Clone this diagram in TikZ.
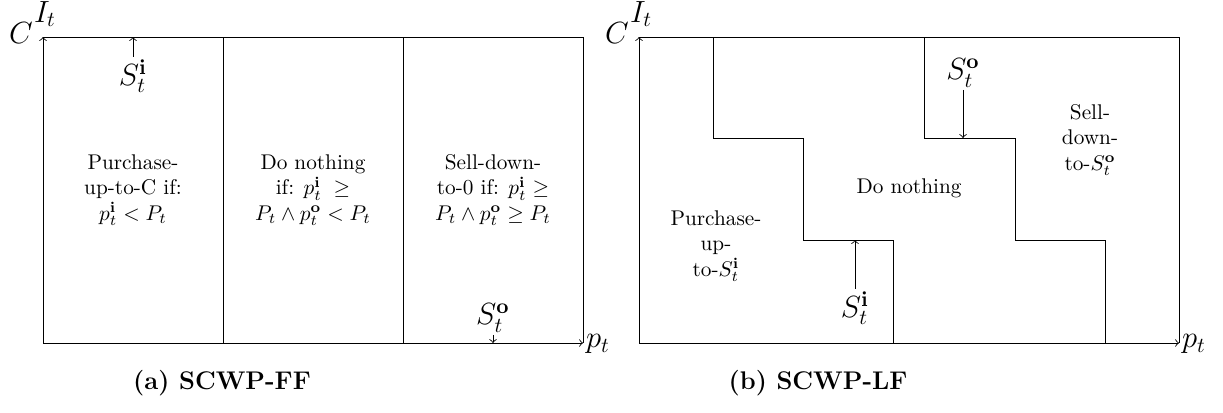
\documentclass[tikz,border=0pt]{standalone}
\usepackage{amsmath,amssymb}
\begin{document}
\begin{tikzpicture}[x=0.47pt,y=-0.47pt,
  lbl/.style={font=\fontsize{14}{16}\selectfont,inner sep=1pt},
  txt/.style={align=center,inner sep=0pt},
  captext/.style={font=\large\bfseries,inner sep=0pt}]
\useasboundingbox (0,0) rectangle (1223,412);
% ---------- left panel ----------
\coordinate (aO) at (43,343);
\coordinate (aY) at (43,37);
\coordinate (aX) at (583,343);
\coordinate (aTR) at (583,37);
\coordinate (aD1t) at (223,37); \coordinate (aD1b) at (223,343);
\coordinate (aD2t) at (403,37); \coordinate (aD2b) at (403,343);
\draw[->] (aO) -- (aY);
\draw[->] (aO) -- (aX);
\draw (aY) -- (aTR) -- (aX);
\draw (aD1t) -- (aD1b);
\draw (aD2t) -- (aD2b);
\node[lbl] (aC) at (21,33) {$C$};
\node[lbl] (aI) at (45,14) {$I_t$};
\node[lbl] (ap) at (598,344) {$p_t$};
\node[lbl] (aSi) at (133,76) {$S_t^{\mathbf{i}}$};
\coordinate (aSiT) at (133,37);
\draw[->] (aSi.north) -- (aSiT);
\node[lbl] (aSo) at (493,318) {$S_t^{\mathbf{o}}$};
\coordinate (aSoT) at (493,343);
\draw[->] (aSo.south) -- (aSoT);
\node[txt] (aT1) at (133,190) {Purchase-\\up-to-C if:\\$p_t^{\mathbf{i}} < P_t$};
\node[txt] (aT2) at (313,190) {Do nothing\\if: $p_t^{\mathbf{i}} \;\geq$\\$P_t \wedge p_t^{\mathbf{o}} < P_t$};
\node[txt] (aT3) at (493,190) {Sell-down-\\to-0 if: $p_t^{\mathbf{i}} \geq$\\$P_t \wedge p_t^{\mathbf{o}} \geq P_t$};
\node[captext] (aCap) at (222,383) {(a) SCWP-FF};
% ---------- right panel ----------
\coordinate (bO) at (639,343);
\coordinate (bY) at (639,37);
\coordinate (bX) at (1179,343);
\coordinate (bTR) at (1179,37);
\draw[->] (bO) -- (bY);
\draw[->] (bO) -- (bX);
\draw (bY) -- (bTR) -- (bX);
\draw (713,37) -- (713,138) -- (803,138) -- (803,240) -- (893,240) -- (893,343);
\draw (924,37) -- (924,138) -- (1015,138) -- (1015,240) -- (1105,240) -- (1105,343);
\node[lbl] (bC) at (617,33) {$C$};
\node[lbl] (bI) at (641,14) {$I_t$};
\node[lbl] (bp) at (1194,344) {$p_t$};
\node[lbl] (bSi) at (855,308) {$S_t^{\mathbf{i}}$};
\coordinate (bSiT) at (855,240);
\draw[->] (bSi.north) -- (bSiT);
\node[lbl] (bSo) at (963,73) {$S_t^{\mathbf{o}}$};
\coordinate (bSoT) at (963,138);
\draw[->] (bSo.south) -- (bSoT);
\node[txt] (bT1) at (716,246) {Purchase-\\up-\\to-$S_t^{\mathbf{i}}$};
\node[txt] (bT2) at (909,188) {Do nothing};
\node[txt] (bT3) at (1090,140) {Sell-\\down-\\to-$S_t^{\mathbf{o}}$};
\node[captext] (bCap) at (818,383) {(b) SCWP-LF};
\end{tikzpicture}
\end{document}
